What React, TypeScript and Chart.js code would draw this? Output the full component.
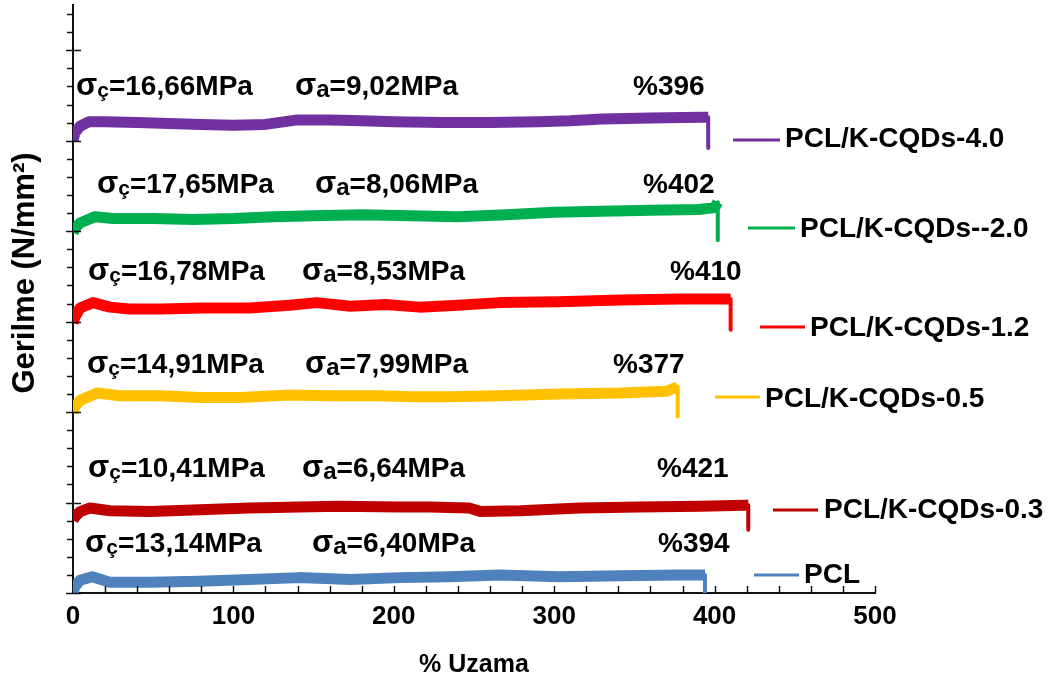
import React, { useEffect, useRef } from "react";
import { Chart, registerables } from "chart.js";

Chart.register(...registerables);

const FONT = '"Liberation Sans", Arial, sans-serif';

// --- data (strain %, plotted stress, curves are offset vertically) ---
const strain40 = [0, 1.2, 4.4, 10, 20, 40, 60, 80, 100, 120, 140, 160, 180, 200, 230, 260, 290, 310, 330, 360, 391, 396, 396];
const stress40 = [50.0, 50.9, 51.6, 52.1, 52.1, 52.0, 51.9, 51.8, 51.7, 51.8, 52.3, 52.3, 52.2, 52.1, 52.0, 52.0, 52.1, 52.2, 52.4, 52.5, 52.6, 52.6, 49.2];

const strain20 = [0, 1.2, 4.4, 13.7, 25, 50, 75, 100, 125, 150, 180, 210, 240, 270, 300, 330, 360, 390, 400, 402, 402];
const stress20 = [39.8, 40.3, 40.9, 41.6, 41.4, 41.4, 41.3, 41.4, 41.6, 41.7, 41.8, 41.7, 41.6, 41.8, 42.1, 42.2, 42.3, 42.4, 42.6, 43.2, 39.0];

const strain12 = [0, 1.2, 4.4, 12.5, 23, 35, 55, 80, 110, 135, 152, 173, 195, 216, 240, 266, 303, 341, 379, 406, 410, 410];
const stress12 = [29.85, 30.5, 31.5, 32.1, 31.6, 31.4, 31.4, 31.5, 31.5, 31.8, 32.1, 31.7, 31.9, 31.6, 31.8, 32.1, 32.2, 32.4, 32.5, 32.5, 32.5, 29.1];

const strain05 = [0, 1.2, 4.4, 15, 29, 54, 79, 104, 135, 160, 191, 210, 235, 266, 303, 341, 370, 377, 377];
const stress05 = [19.9, 20.6, 21.3, 22.1, 21.8, 21.8, 21.6, 21.6, 21.9, 21.8, 21.8, 21.7, 21.7, 21.8, 22.0, 22.1, 22.3, 22.8, 19.5];

const strain03 = [0, 1.2, 4.4, 10.6, 23, 48, 79, 110, 141, 166, 204, 222, 247, 254, 279, 316, 353, 391, 419, 421, 421];
const stress03 = [8.07, 8.4, 9.0, 9.4, 9.1, 9.0, 9.2, 9.4, 9.5, 9.6, 9.5, 9.5, 9.4, 9.0, 9.1, 9.4, 9.5, 9.6, 9.7, 9.7, 7.0];

const strainPCL = [0, 1.2, 4.4, 12, 23, 48, 79, 110, 141, 173, 204, 235, 266, 303, 341, 378, 394, 394];
const stressPCL = [0, 0.7, 1.4, 1.8, 1.2, 1.2, 1.3, 1.5, 1.7, 1.5, 1.7, 1.8, 2.0, 1.8, 1.9, 2.0, 2.0, 0];

const seriesNames = ["PCL/K-CQDs-4.0", "PCL/K-CQDs--2.0", "PCL/K-CQDs-1.2", "PCL/K-CQDs-0.5", "PCL/K-CQDs-0.3", "PCL"];
const seriesColors = ["#7030A0", "#00B050", "#FF0000", "#FFC000", "#C00000", "#4F81BD"];
const sigmaC = ["16,66", "17,65", "16,78", "14,91", "10,41", "13,14"];
const sigmaA = ["9,02", "8,06", "8,53", "7,99", "6,64", "6,40"];
const elongation = ["396", "402", "410", "377", "421", "394"];
const xTickStep = 100;

// --- layout of annotations (pixels) ---
const rows = [
  { cX: 76, aX: 295, pX: 633, base: 95, l1: 733, l2: 780, lY: 140, tX: 785, tB: 147 },
  { cX: 97, aX: 315, pX: 643, base: 193, l1: 748, l2: 795, lY: 228, tX: 800, tB: 237 },
  { cX: 88, aX: 302, pX: 670, base: 280, l1: 760, l2: 805, lY: 327, tX: 810, tB: 336 },
  { cX: 87, aX: 305, pX: 613, base: 373, l1: 715, l2: 760, lY: 397, tX: 765, tB: 407 },
  { cX: 88, aX: 302, pX: 657, base: 477, l1: 773, l2: 818, lY: 510, tX: 824, tB: 518 },
  { cX: 85, aX: 312, pX: 658, base: 552, l1: 754, l2: 799, lY: 575, tX: 804, tB: 583 },
];

const toPoints = (xs: number[], ys: number[]) => xs.map((x, i) => ({ x, y: ys[i] }));

const decorPlugin = {
  id: "decor",
  afterDraw(chart: any) {
    const ctx = chart.ctx as CanvasRenderingContext2D;
    const xs = chart.scales.x;
    const ys = chart.scales.y;
    const axX = chart.chartArea.left;
    const axY = chart.chartArea.bottom;
    ctx.save();
    ctx.strokeStyle = "#111";
    ctx.lineWidth = 1.5;
    for (let v = 0; v <= 64; v += 2) {
      const py = Math.round(ys.getPixelForValue(v)) + 0.5;
      ctx.beginPath();
      if (v % 10 === 0) {
        ctx.moveTo(axX - 7, py);
        ctx.lineTo(axX + 8, py);
      } else {
        ctx.moveTo(axX - 6, py);
        ctx.lineTo(axX, py);
      }
      ctx.stroke();
    }
    for (let v = 20; v <= 500; v += 20) {
      const px = Math.round(xs.getPixelForValue(v)) + 0.5;
      ctx.beginPath();
      ctx.moveTo(px, axY - 7);
      ctx.lineTo(px, axY);
      ctx.stroke();
    }
    ctx.fillStyle = "#000";
    ctx.font = `bold 31px ${FONT}`;
    ctx.textBaseline = "alphabetic";
    ctx.textAlign = "center";
    ctx.translate(34, 273);
    ctx.rotate(-Math.PI / 2);
    ctx.fillText("Gerilme (N/mm²)", 0, 0);
    ctx.setTransform(1, 0, 0, 1, 0, 0);

    ctx.textAlign = "left";
    ctx.textBaseline = "alphabetic";
    const drawSigma = (x: number, base: number, sub: string, subSize: number, val: string) => {
      ctx.font = `bold 31px ${FONT}`;
      ctx.fillText("σ", x, base);
      x += ctx.measureText("σ").width;
      ctx.font = `bold ${subSize}px ${FONT}`;
      ctx.fillText(sub, x, base + 2);
      x += ctx.measureText(sub).width;
      ctx.font = `bold 28px ${FONT}`;
      ctx.fillText("=" + val + "MPa", x, base);
    };
    rows.forEach((r, i) => {
      ctx.fillStyle = "#000";
      drawSigma(r.cX, r.base, "ç", 21, sigmaC[i]);
      drawSigma(r.aX, r.base, "a", 24, sigmaA[i]);
      ctx.font = `bold 28px ${FONT}`;
      ctx.fillText("%" + elongation[i], r.pX, r.base);
      ctx.strokeStyle = seriesColors[i];
      ctx.lineWidth = 3;
      ctx.beginPath();
      ctx.moveTo(r.l1, r.lY);
      ctx.lineTo(r.l2, r.lY);
      ctx.stroke();
      ctx.fillStyle = "#000";
      ctx.font = `bold 28px ${FONT}`;
      ctx.fillText(seriesNames[i], r.tX, r.tB);
    });
    ctx.restore();
  },
};

export default function App() {
  const ref = useRef<HTMLCanvasElement>(null);
  useEffect(() => {
    if (!ref.current) return;
    const sets = [
      toPoints(strain40, stress40),
      toPoints(strain20, stress20),
      toPoints(strain12, stress12),
      toPoints(strain05, stress05),
      toPoints(strain03, stress03),
      toPoints(strainPCL, stressPCL),
    ];
    const chart = new Chart(ref.current, {
      type: "line",
      data: {
        datasets: sets.map((d, i) => ({
          label: seriesNames[i],
          data: d,
          borderColor: seriesColors[i],
          borderWidth: 11,
          pointRadius: 0,
          tension: 0,
          borderJoinStyle: "round",
          borderCapStyle: "butt",
          segment: {
            borderWidth: (c: any) => (Math.abs(c.p0.x - c.p1.x) < 0.5 ? 4 : 11),
          },
        })),
      },
      options: {
        responsive: false,
        animation: false,
        layout: { padding: { top: 5, right: 176, left: 0, bottom: 0 } },
        plugins: { legend: { display: false }, tooltip: { enabled: false } },
        scales: {
          x: {
            type: "linear",
            min: 0,
            max: 500,
            grid: { display: false, drawTicks: false },
            border: { display: true, color: "#111", width: 2 },
            ticks: {
              stepSize: xTickStep,
              autoSkip: false,
              maxRotation: 0,
              padding: 8,
              color: "#000",
              font: { family: FONT, size: 26, weight: "bold" },
            },
            title: {
              display: true,
              text: "% Uzama",
              color: "#000",
              font: { family: FONT, size: 25, weight: "bold" },
              padding: { top: 0, bottom: 4 },
            },
            afterFit: (s: any) => {
              s.height = 91;
            },
          },
          y: {
            type: "linear",
            min: 0,
            max: 65,
            grid: { display: false, drawTicks: false },
            border: { display: true, color: "#111", width: 2 },
            ticks: { display: false },
            afterFit: (s: any) => {
              s.width = 73;
            },
          },
        },
      },
      plugins: [decorPlugin],
    } as any);
    return () => chart.destroy();
  }, []);
  return (
    <div style={{ position: "fixed", left: 0, top: 0, width: 1051, height: 684, background: "#fff" }}>
      <canvas ref={ref} width={1051} height={684} style={{ display: "block" }} />
    </div>
  );
}
